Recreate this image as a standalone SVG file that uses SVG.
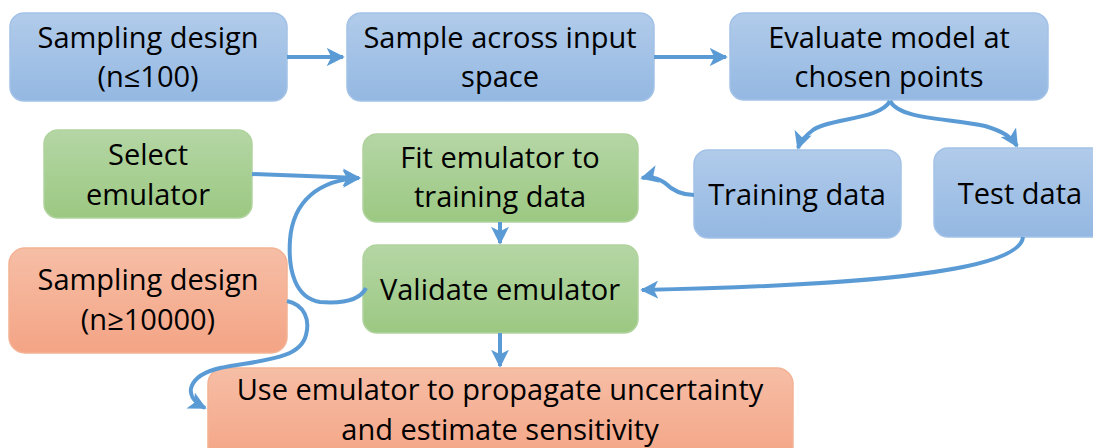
<svg xmlns="http://www.w3.org/2000/svg" width="1093" height="448" viewBox="0 0 1093 448">
<defs>
<linearGradient id="gb" x1="0" y1="0" x2="0" y2="1"><stop offset="0" stop-color="#b1cbea"/><stop offset="1" stop-color="#94b8e2"/></linearGradient>
<linearGradient id="gg" x1="0" y1="0" x2="0" y2="1"><stop offset="0" stop-color="#b5d6a5"/><stop offset="1" stop-color="#9bc882"/></linearGradient>
<linearGradient id="go" x1="0" y1="0" x2="0" y2="1"><stop offset="0" stop-color="#f6bea6"/><stop offset="1" stop-color="#f4a485"/></linearGradient>
<marker id="ah" viewBox="0 0 10 10" refX="9" refY="5" markerWidth="4.5" markerHeight="4.5" orient="auto" markerUnits="strokeWidth"><path d="M0,0 L10,5 L0,10 L2.5,5 z" fill="#5b9bd5"/></marker>
<style>
.b{fill:url(#gb);stroke:#a3c2e6;stroke-width:1.5}
.g{fill:url(#gg);stroke:#b0d39e;stroke-width:1.5}
.o{fill:url(#go);stroke:#f3b294;stroke-width:1.5}
text{font-family:"Open Sans","Noto Sans","Liberation Sans",sans-serif;font-size:29px;fill:#000;text-anchor:middle}
.c{fill:none;stroke:#5b9bd5;stroke-width:4;marker-end:url(#ah)}
</style>
</defs>
<g id="n1"><rect class="b" x="10" y="13" width="277" height="88" rx="14"/><text x="148" y="48">Sampling design</text><text x="148" y="87">(n≤100)</text></g>
<g id="n2"><rect class="b" x="347" y="13" width="307" height="88" rx="14"/><text x="500" y="48">Sample across input</text><text x="500" y="87">space</text></g>
<g id="n3"><rect class="b" x="730" y="13" width="318" height="87" rx="14"/><text x="889" y="48">Evaluate model at</text><text x="889" y="87">chosen points</text></g>
<g id="n4"><rect class="b" x="694" y="150" width="207" height="88" rx="14"/><text x="797" y="205">Training data</text></g>
<g id="n5"><rect class="b" x="934" y="148" width="175" height="89" rx="14"/><text x="1020" y="204">Test data</text></g>
<g id="n6"><rect class="g" x="44" y="130" width="208" height="88" rx="14"/><text x="148" y="165">Select</text><text x="148" y="205">emulator</text></g>
<g id="n7"><rect class="g" x="363" y="134" width="275" height="88" rx="14"/><text x="500" y="168">Fit emulator to</text><text x="500" y="207">training data</text></g>
<g id="n8"><rect class="g" x="363" y="245" width="275" height="88" rx="14"/><text x="500" y="300">Validate emulator</text></g>
<g id="n9"><rect class="o" x="9" y="248" width="278" height="105" rx="16"/><text x="148" y="290">Sampling design</text><text x="148" y="330">(n≥10000)</text></g>
<g id="n10"><rect class="o" x="208" y="368" width="585" height="95" rx="16"/><text x="500" y="400">Use emulator to propagate uncertainty</text><text x="500" y="440">and estimate sensitivity</text></g>
<g id="connectors">
<path class="c" d="M287,57 L343,57"/>
<path class="c" d="M654,57 L726,57"/>
<path class="c" d="M890,101 C880,120 830,118 813,130 C805,136 800,142 798,148"/>
<path class="c" d="M890,101 C900,120 950,118 985,126 C1005,132 1012,138 1017,146"/>
<path class="c" d="M694,195 C680,195 672,190 665,183 C658,178 650,176 642,178"/>
<path class="c" d="M252,174 L359,178"/>
<path class="c" d="M366,288 C360,300 345,304 320,302 C295,298 288,270 290,240 C293,200 320,180 359,178"/>
<path class="c" d="M500,222 L500,243"/>
<path class="c" d="M1023,237 C1020,270 880,285 642,290"/>
<path class="c" d="M500,333 L500,366"/>
<path class="c" d="M287,301 C305,305 310,320 306,335 C300,360 260,360 220,368 C190,375 180,395 205,408"/>
</g>
</svg>
